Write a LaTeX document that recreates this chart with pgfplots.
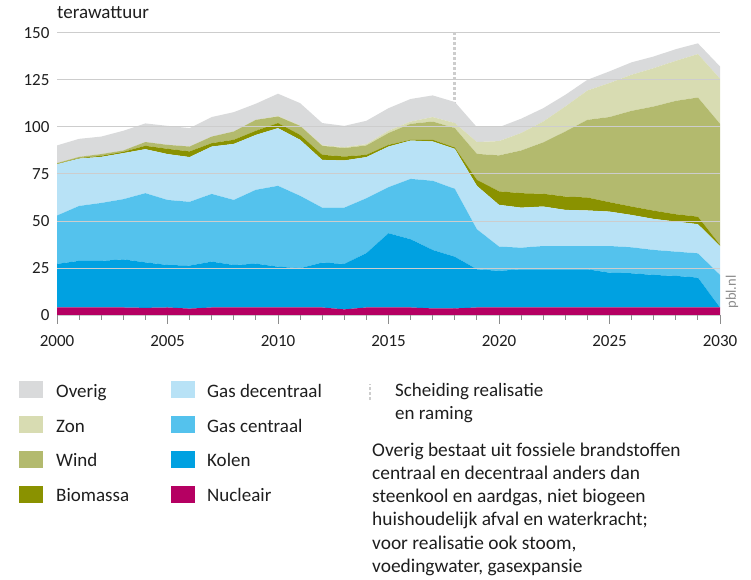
\documentclass[border=0pt]{standalone}
\usepackage{fontspec}
\setmainfont{Carlito}
\usepackage{pgfplots}
\pgfplotsset{compat=1.18}
\usepackage{pgfplotstable}
\definecolor{cOverig}{RGB}{217,218,219}
\definecolor{cZon}{RGB}{216,220,178}
\definecolor{cWind}{RGB}{179,186,110}
\definecolor{cBio}{RGB}{138,146,0}
\definecolor{cGD}{RGB}{184,226,246}
\definecolor{cGC}{RGB}{84,194,237}
\definecolor{cKolen}{RGB}{0,161,225}
\definecolor{cNuc}{RGB}{181,0,98}
\definecolor{cText}{RGB}{30,30,30}
\definecolor{cGrid}{RGB}{205,205,205}
\definecolor{cTick}{RGB}{140,140,140}
\definecolor{cSep}{RGB}{205,205,205}

\pgfplotstableread{
year N K GC GD B W Z O
2000 4 23.2 25.7 27.3 0.2 0.4 0 9.4
2001 4 24.8 29.2 25.2 0.3 0.6 0 9.6
2002 4 24.8 30.8 24.5 0.6 0.9 0 9.3
2003 4 25.6 32.0 24.5 0.7 0.7 0 10.5
2004 3.8 24.2 36.8 23.4 1.8 2.0 0 9.9
2005 4 22.6 34.6 24.4 2.8 2.1 0 10.1
2006 3.4 22.9 33.9 23.8 3.0 2.6 0 9.8
2007 4 24.4 36.0 25.2 1.8 3.5 0 10.4
2008 4 22.6 34.6 29.8 2.2 4.4 0 10.3
2009 4 23.3 39.3 29.2 2.2 5.8 0 8.6
2010 4 21.7 43.0 30.7 2.7 3.5 0.2 11.9
2011 4 20.9 38.5 29.8 2.6 4.8 0.3 11.8
2012 4 23.9 29.2 25.4 2.7 4.8 0.3 11.8
2013 3 24.2 29.9 25.1 2.1 4.5 0.5 11.3
2014 4 28.9 29.2 21.9 1.2 5.0 0.7 12.4
2015 4 39.5 24.5 21.6 0.9 6.3 1.2 12.0
2016 4 36.3 32.1 20.4 0.4 8.5 1.2 12.0
2017 3.5 31.1 36.8 20.9 0.9 9.7 2.4 11.5
2018 3.5 27.5 36.1 21.3 0.7 10.3 2.7 11.2
2019 4 20.3 21.3 23.1 3.2 13.8 6.3 7.9
2020 4 19.5 12.9 22.2 7.2 19.1 7.6 7.4
2021 4 20.3 11.5 21.3 7.7 22.7 9.3 7.6
2022 4 20.3 12.4 21.0 6.8 27.3 11.1 7.1
2023 4 20.3 12.4 19.2 7.1 34.6 13.3 6.2
2024 4 20.3 12.4 18.9 6.9 41.3 15.6 5.7
2025 4 18.5 14.2 18.3 5.0 45.3 18.1 6.2
2026 4 18.2 13.8 17.2 4.5 50.9 19.2 6.6
2027 4 17.3 13.3 16.5 4.4 55.4 20.4 6.2
2028 4 16.8 12.9 16.0 3.9 60.3 21.3 6.2
2029 4 15.9 12.9 15.5 4.0 63.4 23.1 5.7
2030 4 0 17.3 15.4 0.6 64.4 24.0 6.5
}\data

\begin{document}
\begin{tikzpicture}[x=1pt,y=1pt]
\path[use as bounding box] (0,0) rectangle (751,579);
\begin{axis}[
  at={(57pt,264pt)}, anchor=south west,
  scale only axis, width=663pt, height=282pt,
  xmin=2000, xmax=2030, ymin=0, ymax=150,
  ytick={0,25,...,150},
  xtick={2000,2005,...,2030},
  axis line style={draw=none},
  ymajorgrids, grid style={cGrid, line width=1pt},
  major tick length=0pt,
  /pgf/number format/assume math mode=true,
  xticklabel style={/pgf/number format/1000 sep={}, font=\fontsize{17}{20}\selectfont, text=cText, yshift=-17pt},
  yticklabel style={font=\fontsize{17}{20}\selectfont, text=cText, xshift=-4pt},
  stack plots=y, area style,
]
\addplot[fill=cNuc, draw=none] table[x=year, y=N] {\data} \closedcycle;
\addplot[fill=cKolen, draw=none] table[x=year, y=K] {\data} \closedcycle;
\addplot[fill=cGC, draw=none] table[x=year, y=GC] {\data} \closedcycle;
\addplot[fill=cGD, draw=none] table[x=year, y=GD] {\data} \closedcycle;
\addplot[fill=cBio, draw=none] table[x=year, y=B] {\data} \closedcycle;
\addplot[fill=cWind, draw=none] table[x=year, y=W] {\data} \closedcycle;
\addplot[fill=cZon, draw=none] table[x=year, y=Z] {\data} \closedcycle;
\addplot[fill=cOverig, draw=none] table[x=year, y=O] {\data} \closedcycle;
\draw[cSep, line width=2.8pt, dash pattern=on 2.6pt off 2.4pt] (axis cs:2018,0) -- (axis cs:2018,150);
\end{axis}
% x-axis tick marks (decoration)
\foreach \i in {0,...,30}{
  \pgfmathsetmacro{\tl}{ifthenelse(mod(\i,5)==0,8.5,4.5)}
  \draw[cTick, line width=1pt] ({57+663/30*\i},264) -- ++(0,-\tl);
}
% titles
\node[anchor=base west, inner sep=0, text=cText, font=\fontsize{19}{22}\selectfont] at (57,560) {terawattuur};
\node[rotate=90, inner sep=0, text=cTick, font=\fontsize{14.5}{17}\selectfont] at (732,287) {pbl.nl};
% legend
\begin{scope}[font=\fontsize{19}{22}\selectfont]
\foreach \c/\t [count=\i from 0] in {cOverig/Overig, cZon/Zon, cWind/Wind, cBio/Biomassa}{
  \fill[\c] (19,{181.7-34.8*\i-1}) rectangle (43,{181.7-34.8*\i+16});
  \node[anchor=base west, inner sep=0, text=cText] at (56,{181.7-34.8*\i}) {\t};
}
\foreach \c/\t [count=\i from 0] in {cGD/Gas decentraal, cGC/Gas centraal, cKolen/Kolen, cNuc/Nucleair}{
  \fill[\c] (171,{181.7-34.8*\i-1}) rectangle (195,{181.7-34.8*\i+16});
  \node[anchor=base west, inner sep=0, text=cText] at (207,{181.7-34.8*\i}) {\t};
}
\draw[cSep, line width=2.8pt, dash pattern=on 2.6pt off 2.4pt] (370,179) -- (370,195);
\node[anchor=base west, inner sep=0, text=cText] at (395,183) {Scheiding realisatie};
\node[anchor=base west, inner sep=0, text=cText] at (395,159.7) {en raming};
\foreach \t [count=\i from 0] in {Overig bestaat uit fossiele brandstoffen, centraal en decentraal anders dan, steenkool en aardgas{,} niet biogeen, huishoudelijk afval en waterkracht;, voor realisatie ook stoom{,}, voedingwater{,} gasexpansie}{
  \node[anchor=base west, inner sep=0, text=cText, font=\fontsize{19.4}{22}\selectfont] at (372,{123-23.3*\i}) {\t};
}
\end{scope}
\end{tikzpicture}
\end{document}
